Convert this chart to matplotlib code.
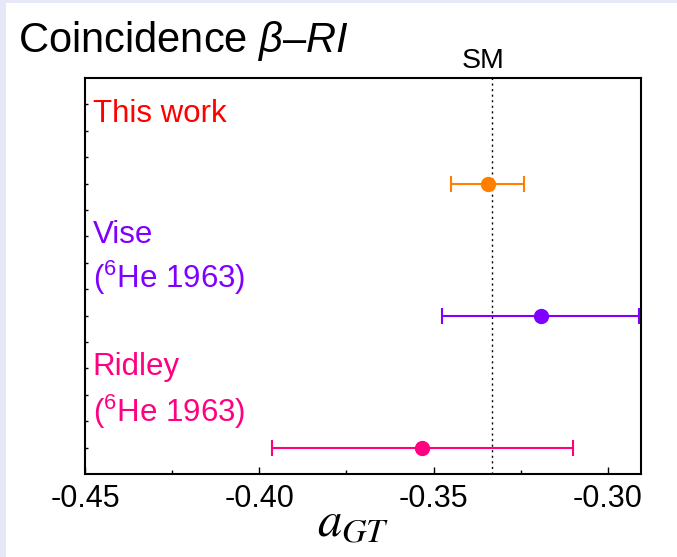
import matplotlib.pyplot as plt
from matplotlib.patches import Rectangle
from matplotlib.ticker import MultipleLocator, FormatStrFormatter

plt.rcParams['font.family'] = ['Liberation Sans', 'DejaVu Sans']
plt.rcParams['mathtext.fontset'] = 'custom'
plt.rcParams['mathtext.rm'] = 'Liberation Sans'
plt.rcParams['mathtext.it'] = 'Liberation Sans:italic'

labels = ['This work', 'Vise', 'Ridley']
values = [-0.3345, -0.3193, -0.3532]
errors = [0.0105, 0.0283, 0.0431]
ypos = [11, 6, 1]
colors = ['#ff8000', '#8000ff', '#ff0080']
sm_value = -0.3333

# annotation texts on the left side
note_texts = ['This work', 'Vise', r'($^{6}$He 1963)', 'Ridley', r'($^{6}$He 1963)']
note_y = [13.33, 8.75, 7.05, 3.75, 1.97]
note_colors = ['#ff0000', '#8000ff', '#8000ff', '#ff0080', '#ff0080']

xticks = [-0.45, -0.40, -0.35, -0.30]

fig = plt.figure(figsize=(6.77, 5.57), dpi=100, facecolor='#e6e8f8')
fig.patches.append(Rectangle((6 / 677, 0), 1, 1 - 3 / 557, transform=fig.transFigure,
                             facecolor='white', edgecolor='none', zorder=-5))

ax = fig.add_axes([85 / 677, 1 - 474 / 557, (641 - 85) / 677, (474 - 78) / 557])
ax.set_zorder(2)

ax.axvline(sm_value, color='black', lw=1, linestyle=(0, (1.5, 2.5)), zorder=1)

for v, e, y, c in zip(values, errors, ypos, colors):
    ax.errorbar(v, y, xerr=e, fmt='o', color=c, ms=10, elinewidth=1.5,
                capsize=6, capthick=1.5, zorder=3)

for t, y, c in zip(note_texts, note_y, note_colors):
    ax.text(-0.4478, y, t, color=c, fontsize=22.5, va='baseline', ha='left')

ax.text(-0.3358, 1.026, 'SM', transform=ax.get_xaxis_transform(), fontsize=20.5,
        ha='center', va='baseline')

ax.set_xlim(-0.45, -0.2905)
ax.set_ylim(0, 15)
ax.set_xticks(xticks)
ax.xaxis.set_major_formatter(FormatStrFormatter('%.2f'))
ax.xaxis.set_minor_locator(MultipleLocator(0.025))
ax.set_yticks(range(1, 15))
ax.set_yticklabels([])
ax.tick_params(axis='x', which='major', direction='in', length=5, width=1, labelsize=22, pad=7)
ax.tick_params(axis='x', which='minor', direction='in', length=3, width=1)
ax.tick_params(axis='y', direction='in', length=2.5, width=1)
for s in ax.spines.values():
    s.set_linewidth(1.5)

ax.set_xlabel(r'$a_{GT}$', fontsize=35, math_fontfamily='stix')
ax.xaxis.label.set_va('baseline')
ax.xaxis.set_label_coords((353 - 85) / 556, -(536 - 474) / 396)

fig.text(18 / 677, 1 - 52 / 557, r'Coincidence $\mathit{\beta}$–$\mathit{RI}$',
         fontsize=30, ha='left', va='baseline')

fig.savefig('out.png', dpi=100, facecolor=fig.get_facecolor())
